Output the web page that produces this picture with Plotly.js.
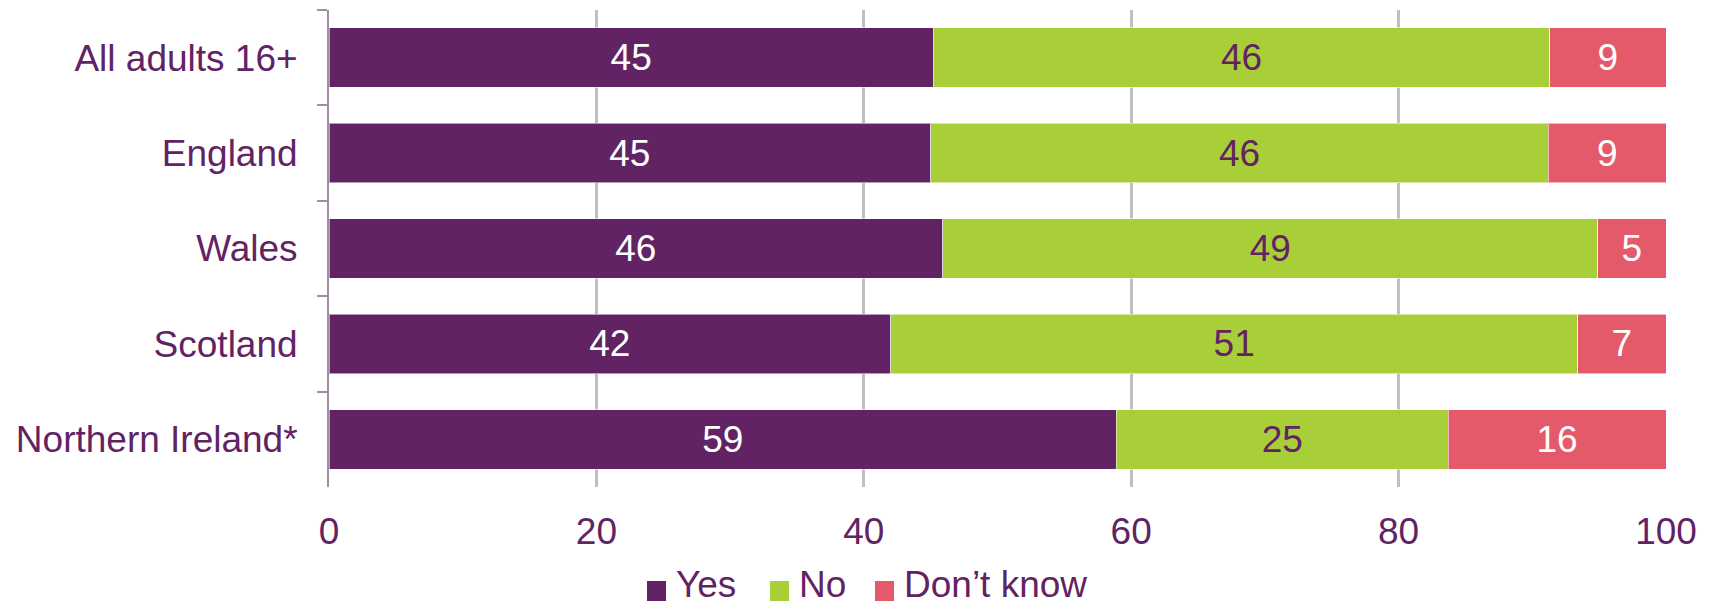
<!DOCTYPE html>
<html>
<head>
<meta charset="utf-8">
<script src="https://cdn.plot.ly/plotly-3.0.1.min.js"></script>
<style>
  html, body { margin: 0; padding: 0; background: #fff; }
  #chart { width: 1711px; height: 610px; }
</style>
</head>
<body>
<div id="chart"></div>
<script>
// ---- Data (percent of respondents) ----
const categories = ["All adults 16+", "England", "Wales", "Scotland", "Northern Ireland*"];
const seriesNames = ["Yes", "No", "Don\u2019t know"];
const yesValues = [45.2, 45.0, 45.9, 42.0, 58.9];
const noValues = [46.1, 46.2, 49.0, 51.4, 24.8];
const dontKnowValues = [8.7, 8.8, 5.1, 6.6, 16.3];
const xTickValues = [0, 20, 40, 60, 80, 100];
const xTickLabels = ["0", "20", "40", "60", "80", "100"];

// ---- Styles ----
const PURPLE = "#612363";
const GREEN = "#A9CF38";
const RED = "#E55A6A";
const TEXT = "#612363";
const FONT = "Liberation Sans, Arial, sans-serif";
const FS = 37;

const W = 1711, H = 610;
const M = { l: 329, r: 45, t: 10, b: 123 };
const plotW = W - M.l - M.r, plotH = H - M.t - M.b;
const px2x = px => (px - M.l) / plotW;
const py2y = py => (H - M.b - py) / plotH;

function barTrace(name, values, color, textColor) {
  return {
    type: "bar",
    orientation: "h",
    name: name,
    y: categories,
    x: values,
    marker: { color: color, line: { color: "rgba(255,255,255,0.55)", width: 1 } },
    text: values.map(v => String(Math.round(v))),
    texttemplate: "%{text}",
    textposition: "inside",
    insidetextanchor: "middle",
    constraintext: "none",
    textfont: { family: FONT, size: FS, color: textColor },
    hoverinfo: "skip",
    showlegend: false
  };
}

const traces = [
  barTrace(seriesNames[0], yesValues, PURPLE, "#ffffff"),
  barTrace(seriesNames[1], noValues, GREEN, TEXT),
  barTrace(seriesNames[2], dontKnowValues, RED, "#ffffff")
];

// ---- Custom legend (bigger swatches as in the reference) ----
const legendColors = [PURPLE, GREEN, RED];
const legendLeftPx = [647, 770, 875];
const shapes = [];
const annotations = [];
seriesNames.forEach((name, i) => {
  const x0 = legendLeftPx[i];
  shapes.push({
    type: "rect", xref: "paper", yref: "paper",
    x0: px2x(x0), x1: px2x(x0 + 19),
    y0: py2y(581), y1: py2y(601),
    fillcolor: legendColors[i], line: { width: 0 }
  });
  annotations.push({
    xref: "paper", yref: "paper",
    x: px2x(x0 + 27), y: py2y(584),
    xanchor: "left", yanchor: "middle",
    text: name, showarrow: false,
    font: { family: FONT, size: FS, color: TEXT }
  });
});

const layout = {
  width: W, height: H,
  margin: { l: M.l, r: M.r, t: M.t, b: M.b, pad: 0, autoexpand: false },
  paper_bgcolor: "#ffffff",
  plot_bgcolor: "#ffffff",
  barmode: "stack",
  bargap: 0.376,
  showlegend: false,
  font: { family: FONT, size: FS, color: TEXT },
  xaxis: {
    range: [0, 100],
    tickvals: xTickValues,
    ticktext: xTickLabels,
    showgrid: true,
    gridcolor: "#BFBFBF",
    gridwidth: 3,
    zeroline: false,
    showline: false,
    ticks: "",
    ticklabelstandoff: 19,
    tickfont: { family: FONT, size: FS, color: TEXT },
    fixedrange: true
  },
  yaxis: {
    type: "category",
    autorange: "reversed",
    showgrid: false,
    zeroline: false,
    showline: true,
    linecolor: "#A28DA6",
    linewidth: 2,
    ticks: "outside",
    tickson: "boundaries",
    ticklen: 10,
    tickwidth: 2,
    tickcolor: "#A28DA6",
    ticklabelstandoff: 22,
    tickfont: { family: FONT, size: FS, color: TEXT },
    fixedrange: true
  },
  shapes: shapes,
  annotations: annotations
};

Plotly.newPlot("chart", traces, layout, { displayModeBar: false, staticPlot: true });
</script>
</body>
</html>
